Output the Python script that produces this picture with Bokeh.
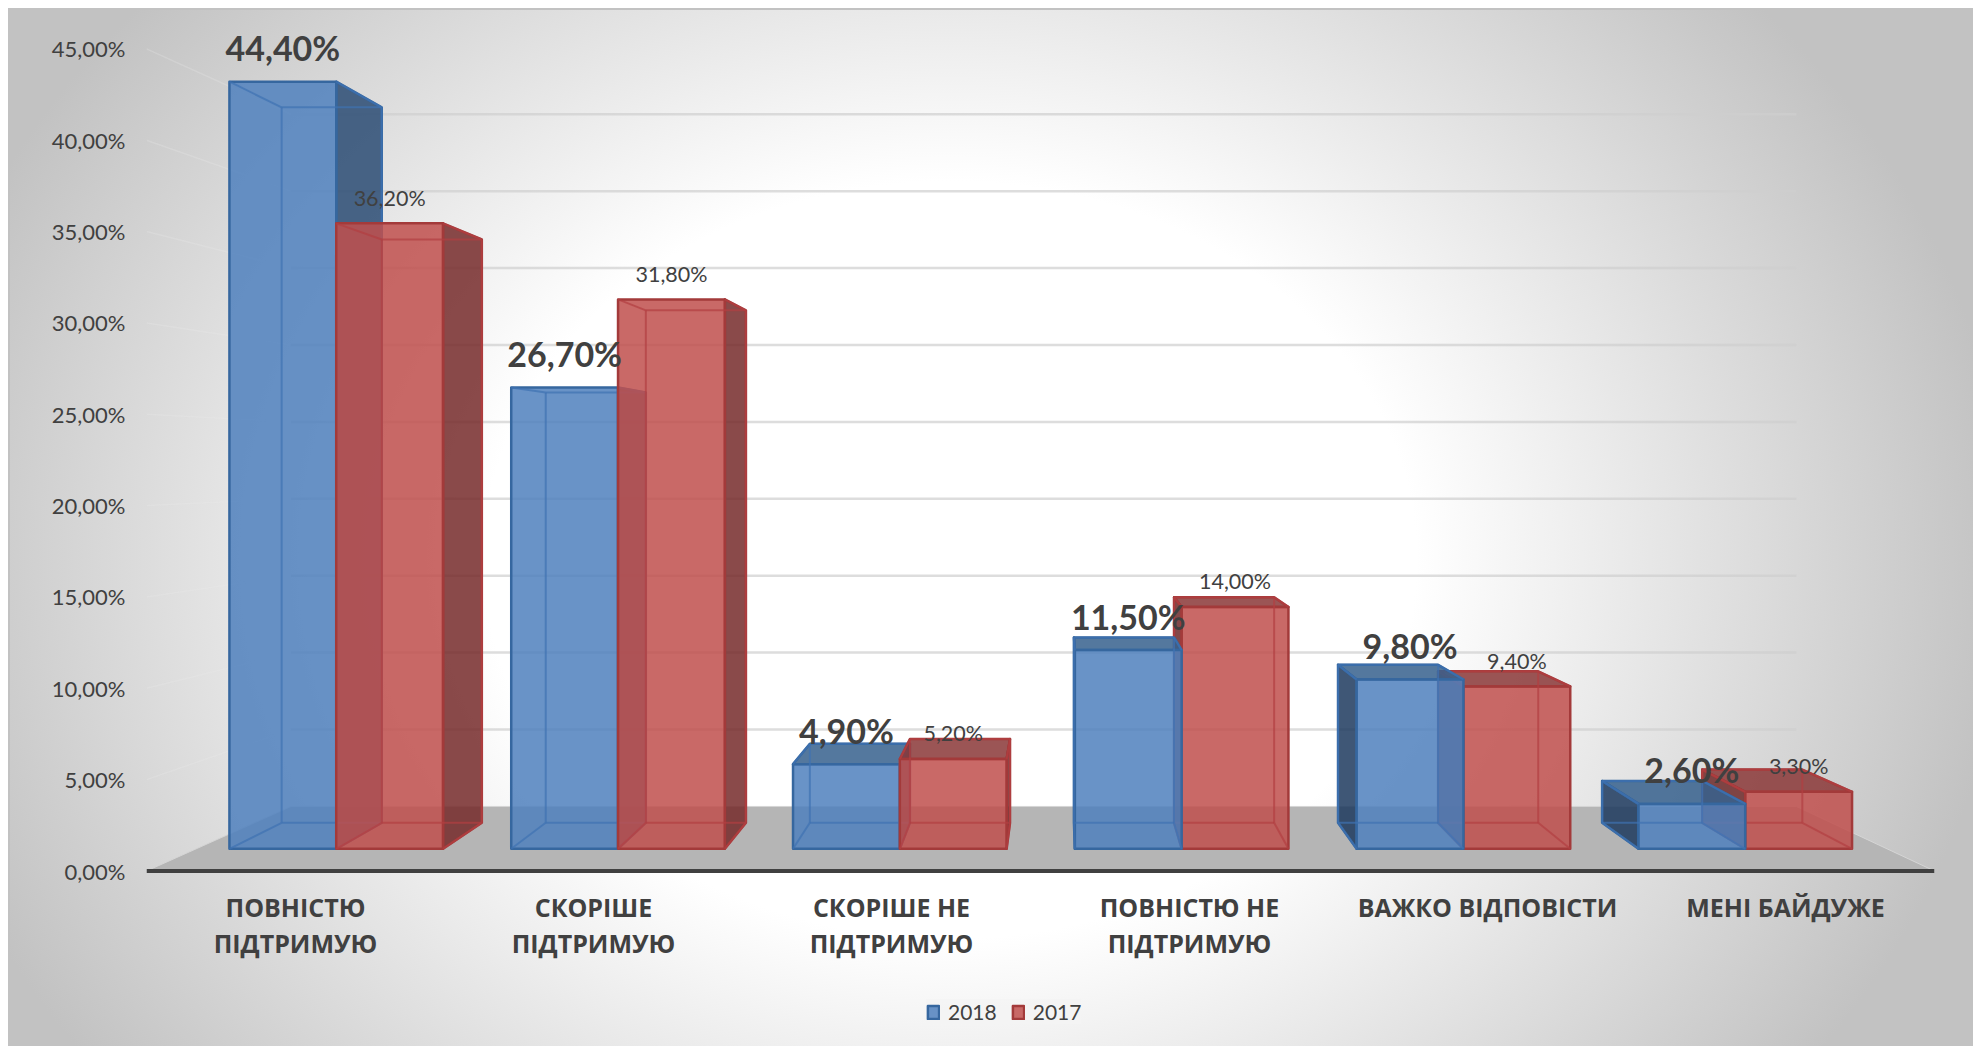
from bokeh.plotting import figure
from bokeh.models import Range1d, FixedTicker, Legend, LegendItem
from bokeh.core.properties import value
from bokeh.embed import file_html
from bokeh.resources import INLINE

categories = ["ПОВНІСТЮ\nПІДТРИМУЮ", "СКОРІШЕ\nПІДТРИМУЮ", "СКОРІШЕ НЕ\nПІДТРИМУЮ",
              "ПОВНІСТЮ НЕ\nПІДТРИМУЮ", "ВАЖКО ВІДПОВІСТИ", "МЕНІ БАЙДУЖЕ"]
series_2018 = [44.4, 26.7, 4.9, 11.5, 9.8, 2.6]
series_2017 = [36.2, 31.8, 5.2, 14.0, 9.4, 3.3]
labels_2018 = ["44,40%", "26,70%", "4,90%", "11,50%", "9,80%", "2,60%"]
labels_2017 = ["36,20%", "31,80%", "5,20%", "14,00%", "9,40%", "3,30%"]
y_ticks = [0, 5, 10, 15, 20, 25, 30, 35, 40, 45]
y_tick_labels = ["0,00%", "5,00%", "10,00%", "15,00%", "20,00%", "25,00%", "30,00%", "35,00%", "40,00%", "45,00%"]

# perspective of the 3-D box, in data units of the front plane
VPX, VPY, SHRINK = 3.067, 22.36, 0.158
T_FRONT, T_BACK = 0.344, 0.747
T_BACK_X = 0.72
BAR_L, BAR_W = 0.118, 0.379

def proj(x, v, t, tx=None):
    s = 1 - SHRINK * t
    sx = 1 - SHRINK * (t if tx is None else tx)
    return VPX + (x - VPX) * sx, VPY + (v - VPY) * s

STYLE = {
    "2018": dict(front="#4F81BD", right="#2B4C74", left="#1E3A5F", top="#37618D",
                 edge="#36679F", inner="#3F72B2"),
    "2017": dict(front="#C0504D", right="#762B2B", left="#6E2A2A", top="#8A3838",
                 edge="#A33A3A", inner="#B23F42"),
}
ALPHA = 0.855
TXT = "#404040"
FONT = "Lato"

p = figure(width=1965, height=1038, output_backend="svg", toolbar_location=None,
           x_range=Range1d(0, 6), y_range=Range1d(-9.387, 46.99),
           min_border_left=138, min_border_right=39, min_border_top=4, min_border_bottom=4,
           background_fill_color=None, border_fill_color=None, outline_line_color=None,
           styles={
               "margin": "8px 0 0 8px",
               "background": "radial-gradient(ellipse 1060px 860px at 942px 552px, #ffffff 0%, #ffffff 44%, #c2c2c2 100%)",
               "box-shadow": "inset 2px 2px 0 #c2c2c2",
           })
p.grid.visible = False

# y axis
p.yaxis.ticker = FixedTicker(ticks=y_ticks)
p.yaxis.major_label_overrides = dict(zip(y_ticks, y_tick_labels))
p.yaxis.axis_line_color = None
p.yaxis.major_tick_line_color = None
p.yaxis.minor_tick_line_color = None
p.yaxis.major_tick_out = 0
p.yaxis.major_label_standoff = 21
p.yaxis.major_label_text_font = FONT
p.yaxis.major_label_text_font_size = "22px"
p.yaxis.major_label_text_color = TXT

# x axis
cat_ticks = [i + 0.5 for i in range(len(categories))]
p.xaxis.ticker = FixedTicker(ticks=cat_ticks)
p.xaxis.major_label_overrides = dict(zip(cat_ticks, categories))
p.xaxis.fixed_location = -0.2463
p.xaxis.axis_line_color = None
p.xaxis.major_tick_line_color = None
p.xaxis.minor_tick_line_color = None
p.xaxis.major_tick_out = 0
p.xaxis.major_label_standoff = 14
p.xaxis.major_label_orientation = "horizontal"
p.xaxis.major_label_text_font = "Open Sans"
p.xaxis.major_label_text_font_style = "bold"
p.xaxis.major_label_text_font_size = "25px"
p.xaxis.major_label_text_color = TXT
p.xaxis.major_label_text_line_height = 1.08

# walls
NCAT = len(categories)
for v in y_ticks[1:]:
    x0, y0 = proj(0, v, 0)
    x1, y1 = proj(0, v, 1)
    x2, y2 = proj(NCAT, v, 1)
    p.line([x0, x1], [y0, y1], line_color="#ececec", line_alpha=0.25, line_width=1.5)
    p.line([x1, x2], [y1, y2], line_color="#cfcfcf", line_alpha=0.7, line_width=2.5)

# floor
fx, fy = zip(proj(0, 0, 0), proj(NCAT, 0, 0), proj(NCAT, 0, 1), proj(0, 0, 1))
p.patch(list(fx), list(fy), fill_color="#b5b5b5", line_color="#d5d5d5", line_width=1)
p.line([0, NCAT], [0, 0], line_color="#404040", line_width=4)


def face(pts, fill, edge, width=2.5):
    xs, ys = zip(*pts)
    return p.patch(list(xs), list(ys), fill_color=fill, fill_alpha=ALPHA,
                   line_color=edge, line_width=width, line_join="round")


legend_rend = {}


def bar(name, x0, x1, v):
    st = STYLE[name]
    fbl, fbr = proj(x0, 0, T_FRONT), proj(x1, 0, T_FRONT)
    ftl, ftr = proj(x0, v, T_FRONT), proj(x1, v, T_FRONT)
    bbl, bbr = proj(x0, 0, T_BACK, T_BACK_X), proj(x1, 0, T_BACK, T_BACK_X)
    btl, btr = proj(x0, v, T_BACK, T_BACK_X), proj(x1, v, T_BACK, T_BACK_X)
    if x1 < VPX:
        face([fbr, bbr, btr, ftr], st["right"], st["edge"])
    if x0 > VPX:
        face([fbl, bbl, btl, ftl], st["left"], st["edge"])
    if ftl[1] < VPY:
        face([ftl, ftr, btr, btl], st["top"], st["edge"])
    front = face([fbl, fbr, ftr, ftl], st["front"], st["edge"])
    legend_rend.setdefault(name, front)
    # back edges, seen through the translucent box
    for a, b in [(bbl, bbr), (bbl, btl), (bbr, btr), (btl, btr),
                 (fbl, bbl), (fbr, bbr), (ftl, btl), (ftr, btr)]:
        p.line([a[0], b[0]], [a[1], b[1]], line_color=st["inner"], line_alpha=0.7, line_width=2)


for g in range(NCAT):
    a = (g + BAR_L, g + BAR_L + BAR_W, series_2018[g], "2018")
    b = (g + BAR_L + BAR_W, g + BAR_L + 2 * BAR_W, series_2017[g], "2017")
    order = [a, b] if a[1] < VPX else [b, a]
    for x0, x1, v, name in order:
        bar(name, x0, x1, v)

# data labels
lx, ly, lt, rx, ry, rt = [], [], [], [], [], []
for g in range(NCAT):
    x, y = proj(g + BAR_L + BAR_W / 2, series_2018[g], T_FRONT)
    lx.append(x); ly.append(y); lt.append(labels_2018[g])
    x, y = proj(g + BAR_L + 1.5 * BAR_W, series_2017[g], T_FRONT)
    rx.append(x); ry.append(y); rt.append(labels_2017[g])
p.text(rx, ry, text=rt, text_font=value(FONT), text_font_size=value("21.5px"), text_color=TXT,
       text_align="center", text_baseline="middle", y_offset=-25.5)
p.text(lx, ly, text=lt, text_font=value(FONT), text_font_style="bold", text_font_size=value("34px"),
       text_color=TXT, text_align="center", text_baseline="middle", y_offset=-34)

legend = Legend(items=[LegendItem(label="2018", renderers=[legend_rend["2018"]]),
                       LegendItem(label="2017", renderers=[legend_rend["2017"]])],
                location=(780, 18), orientation="horizontal", margin=0, padding=14,
                glyph_width=14, glyph_height=16, label_standoff=8, spacing=14,
                background_fill_color="#f4f4f4", background_fill_alpha=0.8, border_line_color=None,
                label_text_font=FONT, label_text_font_size="21px", label_text_color=TXT)
p.add_layout(legend, "center")

open("out.html", "w").write(file_html(p, INLINE))
